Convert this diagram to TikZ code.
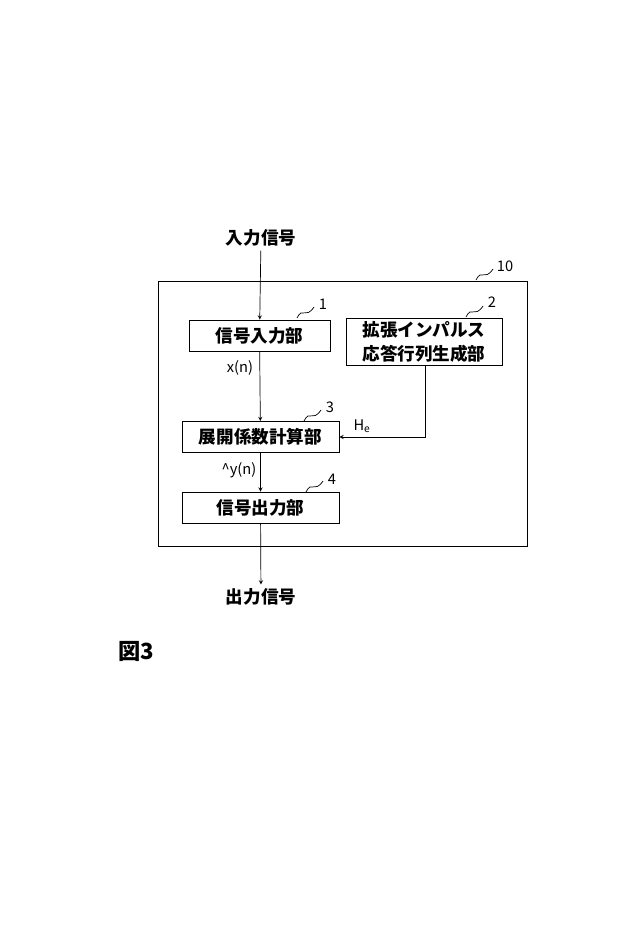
\documentclass[tikz,border=0pt]{standalone}
\usepackage{fontspec}
\setmainfont{Noto Sans CJK JP}
\usetikzlibrary{positioning,calc}
\tikzset{
  blk/.style={draw,thick,minimum height=0.93cm,align=center,font=\bfseries\fontsize{15}{17}\selectfont,inner sep=1pt},
  lbl/.style={font=\fontsize{12.5}{14}\selectfont},
  squig/.style={semithick},
}
\newcommand{\tld}[1]{\draw[squig] ($(#1)+(-9,6)$) .. controls ($(#1)+(-3,-6)$) and ($(#1)+(-1,8)$) .. ($(#1)+(8,-5)$);}
\begin{document}
\begin{tikzpicture}[x=0.03cm,y=-0.03cm,>=stealth]
\useasboundingbox (0,0) rectangle (640,932);
\draw[thick] (158,281) rectangle (527,546);
\node[blk,minimum width=4.23cm] (sin) at (259.5,335.5) {信号入力部};
\node[blk,minimum width=4.68cm,minimum height=1.43cm,inner sep=0pt,font=\bfseries\fontsize{15}{21}\selectfont] (imp) at (424,342) {拡張インパルス\\応答行列生成部};
\node[blk,minimum width=4.71cm] (coef) at (260.5,437) {展開係数計算部};
\node[blk,minimum width=4.71cm] (sout) at (260.5,507.5) {信号出力部};
\node[font=\bfseries\fontsize{15}{17}\selectfont] (in) at (261,238) {入力信号};
\node[font=\bfseries\fontsize{15}{17}\selectfont] (out) at (261,597) {出力信号};
\node[font=\bfseries\fontsize{19}{22}\selectfont] (fig) at (136,651) {図3};
\draw[semithick,->] (in) -- (sin);
\draw[semithick,->] (sin) -- (coef);
\draw[semithick,->] (coef) -- (sout);
\draw[semithick,->] (sout) -- (out);
\coordinate (bend) at (425,437);
\draw[semithick,->] (imp.south -| bend) -- (bend) -- (coef.east);
\node[lbl] (xn) at (240,368) {x(n)};
\node[lbl] (yn) at (239,470) {\textasciicircum y(n)};
\node[lbl] (he) at (362,426) {H$_\mathrm{e}$};
\node[lbl] (n10) at (505,266) {10}; \coordinate (t10) at (485,274); \tld{t10}
\node[lbl] (n1) at (323,304) {1}; \coordinate (t1) at (306,312); \tld{t1}
\node[lbl] (n2) at (492,302) {2}; \coordinate (t2) at (475,311); \tld{t2}
\node[lbl] (n3) at (330,407) {3}; \coordinate (t3) at (313,415); \tld{t3}
\node[lbl] (n4) at (332,479) {4}; \coordinate (t4) at (315,486); \tld{t4}
\end{tikzpicture}
\end{document}
